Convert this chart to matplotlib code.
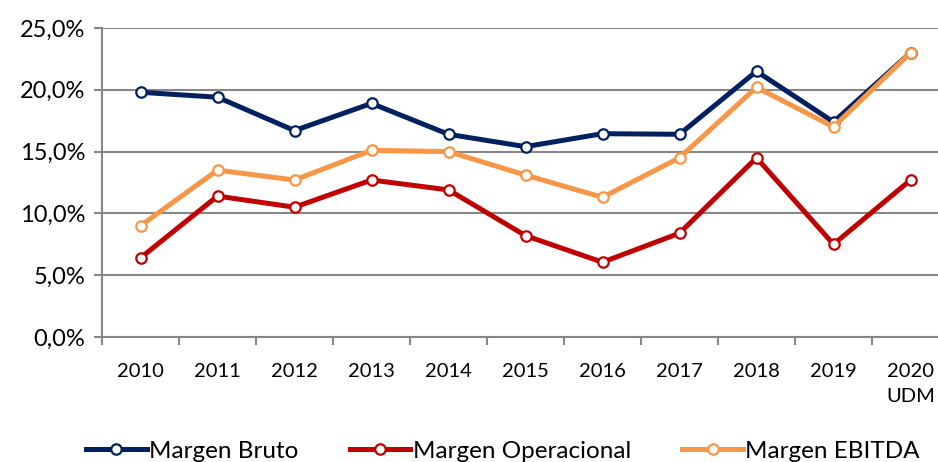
import matplotlib
matplotlib.use("Agg")
import matplotlib.pyplot as plt
from matplotlib.ticker import FuncFormatter, FixedLocator

plt.rcParams['font.family'] = ['Lato', 'DejaVu Sans']

categories = ["2010", "2011", "2012", "2013", "2014", "2015", "2016", "2017", "2018", "2019", "2020\nUDM"]
margem_bruto = [19.8, 19.4, 16.7, 18.9, 16.4, 15.4, 16.45, 16.4, 21.5, 17.4, 23.0]
margem_operacional = [6.4, 11.4, 10.5, 12.7, 11.9, 8.2, 6.05, 8.4, 14.5, 7.5, 12.7]
margem_ebitda = [9.0, 13.5, 12.7, 15.1, 15.0, 13.1, 11.3, 14.5, 20.2, 17.0, 23.0]
series_names = ["Margen Bruto", "Margen Operacional", "Margen EBITDA"]
colors = ["#002060", "#C00000", "#F79646"]

fig = plt.figure(figsize=(9.38, 4.62), dpi=100)
ax = fig.add_axes([102/938, (462-337)/462, 847/938, (337-28)/462])

x = list(range(len(categories)))
for vals, name, c in zip([margem_bruto, margem_operacional, margem_ebitda], series_names, colors):
    ax.plot(x, vals, color=c, lw=3.6, marker='o', markersize=7.5,
            markerfacecolor='white', markeredgecolor=c, markeredgewidth=1.6,
            label=name, solid_joinstyle='round', zorder=3)

ax.set_xlim(-0.5, len(categories) - 0.5)
ax.set_ylim(0, 25)
ax.set_yticks([0, 5, 10, 15, 20, 25])
ax.yaxis.set_major_formatter(FuncFormatter(lambda v, p: f"{v:.1f}%".replace('.', ',')))
ax.set_xticks(x)
ax.set_xticklabels(categories, linespacing=1.55)
ax.xaxis.set_minor_locator(FixedLocator([i - 0.5 for i in range(len(categories) + 1)]))
ax.tick_params(axis='x', which='major', length=0, pad=19, labelsize=14.5)
ax.tick_params(axis='x', which='minor', length=6, width=1.5, color='#868686')
ax.tick_params(axis='y', length=6, width=1.5, color='#868686', labelsize=17, pad=6)

ax.grid(axis='y', color='#868686', lw=1.5, zorder=1)
for s in ['top', 'right']:
    ax.spines[s].set_visible(False)
for s in ['left', 'bottom']:
    ax.spines[s].set_color('#868686')
    ax.spines[s].set_linewidth(1.5)

fig.legend(loc='center', bbox_to_anchor=(503/938, 11/462), ncol=3, frameon=False,
           fontsize=17.5, handlelength=2.5, columnspacing=2.1, handletextpad=0.1,
           borderaxespad=0)

fig.savefig("out.png", dpi=100)
